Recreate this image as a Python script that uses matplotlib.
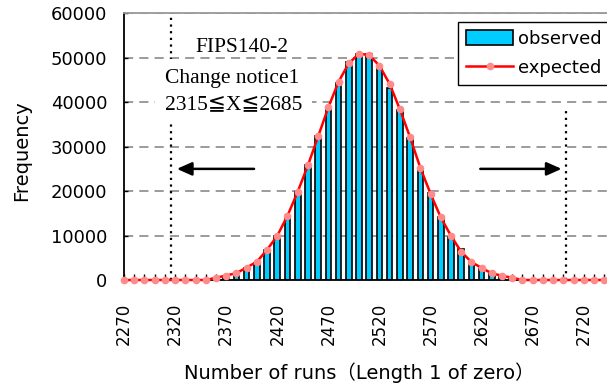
import matplotlib
matplotlib.use("Agg")
import matplotlib.pyplot as plt

# number of runs (categories, step 10)
runs = list(range(2270, 2750, 10))

observed = [0, 0, 0, 0, 0, 0, 0, 0, 0,
            300, 850, 1350, 2600, 3800, 6800, 9950, 14500, 19900, 25900,
            32500, 38700, 44400, 49000, 50900, 50900, 48000, 43300, 38300, 32000,
            25300, 19500, 14200, 9700, 6900, 4100, 2500, 1400, 700, 350,
            0, 0, 0, 0, 0, 0, 0, 0, 0]

expected = [0, 0, 0, 0, 0, 0, 0, 0, 0,
            500, 1000, 1550, 2800, 4100, 6800, 9950, 14450, 19850, 25800,
            32300, 38850, 44600, 48750, 50900, 50600, 48200, 44100, 38400, 32100,
            25250, 19400, 14100, 9950, 6350, 4050, 2700, 1500, 950, 500,
            0, 0, 0, 0, 0, 0, 0, 0, 0]

tick_labels = ["2270", "2320", "2370", "2420", "2470", "2520", "2570", "2620", "2670", "2720"]

# FIPS limits as drawn on the chart
lower_line = 2316
upper_line = 2703
arrow_y = 25000

fig = plt.figure(figsize=(6.07, 3.89), dpi=100)
ax = fig.add_axes([124 / 607, 109 / 389, 516 / 607, 266.7 / 389])

bars = ax.bar(runs, observed, width=5.5, color="#00CCFF", edgecolor="black", linewidth=1.2,
              label="observed", zorder=2)
line, = ax.plot(runs, expected, color="red", linewidth=1.8, marker="o", markersize=4.5,
                markerfacecolor="#FF8A8A", markeredgecolor="#FF8A8A", label="expected",
                zorder=4, clip_on=False)

ax.set_xlim(2270, 2775)
ax.set_ylim(0, 60000)
ax.set_yticks([0, 10000, 20000, 30000, 40000, 50000, 60000])
ax.set_xticks(runs)
ax.set_xticklabels([str(r) if str(r) in tick_labels else "" for r in runs],
                   rotation=90, fontsize=12)
ax.tick_params(axis="x", direction="in", length=4.5, width=1, pad=16.5)
ax.tick_params(axis="y", direction="in", length=3, width=1, pad=12, labelsize=13)

ax.set_axisbelow(True)
ax.yaxis.grid(True, color="#808080", linestyle=(0, (6, 4)), linewidth=1.1)

for s in ["left", "bottom"]:
    ax.spines[s].set_linewidth(1.3)
ax.spines["top"].set_color("#999999")
ax.spines["top"].set_linewidth(1.3)

# dotted limit lines
ax.plot([lower_line, lower_line], [0, 60000], color="black", linestyle=(0, (1, 2)),
        linewidth=1.6, zorder=1)
ax.plot([upper_line, upper_line], [0, 39000], color="black", linestyle=(0, (1, 2)),
        linewidth=1.6, zorder=1)

# arrows
ax.annotate("", xy=(lower_line + 3, arrow_y), xytext=(2400, arrow_y),
            arrowprops=dict(arrowstyle="-|>,head_length=0.9,head_width=0.4",
                            color="black", lw=1.8), zorder=3)
ax.annotate("", xy=(upper_line - 2, arrow_y), xytext=(2616, arrow_y),
            arrowprops=dict(arrowstyle="-|>,head_length=0.9,head_width=0.4",
                            color="black", lw=1.8), zorder=3)

serif = ["Liberation Serif", "DejaVu Serif", "DejaVu Sans"]
ax.text(2310, 42400, "Change notice1\n2315\u2266X\u22662685", family=serif, fontsize=15.5,
        ha="left", va="center", linespacing=1.5, zorder=3,
        bbox=dict(boxstyle="square,pad=0.45", facecolor="white", edgecolor="none"))
ax.text(2385, 52400, "FIPS140-2", family=serif, fontsize=15.5, ha="center", va="center",
        zorder=3)

ax.set_ylabel("Frequency", fontsize=14)
ax.yaxis.set_label_coords(-0.198, 0.484)
ax.yaxis.label.set_va("center")
ax.set_xlabel("Number of runs\uff08Length 1 of zero\uff09", fontsize=14,
              family=["DejaVu Sans", "Noto Sans CJK JP"])
ax.xaxis.set_label_coords(0.457, -0.349)
ax.xaxis.label.set_va("center")

leg = ax.legend([bars, line], ["observed", "expected"], loc="upper left",
                bbox_to_anchor=(458 / 607, 1 - 22 / 389),
                bbox_transform=fig.transFigure, fontsize=13, frameon=True,
                fancybox=False, framealpha=1, edgecolor="black", borderpad=0.45,
                handlelength=2.6, handleheight=0.9, handletextpad=0.3,
                labelspacing=0.6, borderaxespad=0)
leg.get_frame().set_linewidth(1.0)

fig.savefig("out.png", dpi=100)
